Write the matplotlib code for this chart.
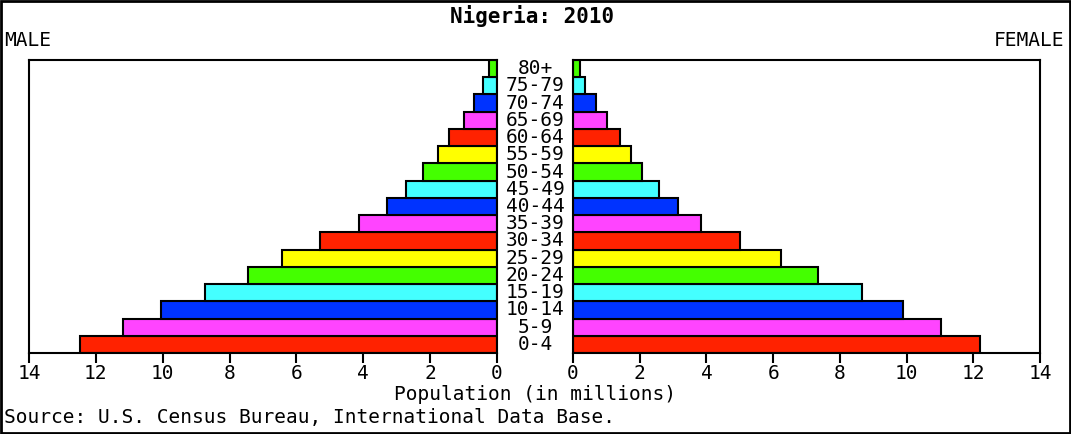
import matplotlib
matplotlib.use('Agg')
import matplotlib.pyplot as plt
from matplotlib.transforms import blended_transform_factory
from matplotlib.patches import Rectangle

# Age groups from youngest to oldest
age_groups = ['0-4', '5-9', '10-14', '15-19', '20-24', '25-29', '30-34', '35-39',
              '40-44', '45-49', '50-54', '55-59', '60-64', '65-69', '70-74',
              '75-79', '80+']

# Population in millions
male = [12.47, 11.19, 10.04, 8.74, 7.46, 6.43, 5.30, 4.14,
        3.30, 2.72, 2.22, 1.76, 1.45, 0.99, 0.68, 0.42, 0.23]
female = [12.19, 11.04, 9.90, 8.67, 7.33, 6.24, 5.02, 3.85,
          3.16, 2.57, 2.07, 1.73, 1.41, 1.03, 0.70, 0.37, 0.20]

ticks = [0, 2, 4, 6, 8, 10, 12, 14]
palette = ['#ff2200', '#ff44ff', '#0033ff', '#44ffff', '#44ff00', '#ffff00']
bar_colors = [palette[i % len(palette)] for i in range(len(age_groups))]

font = 'DejaVu Sans Mono'
fs = 14

fig = plt.figure(figsize=(10.71, 4.34), dpi=100)
W, H = 1071, 434

def axes_rect(x0, x1, y0, y1):
    return [x0 / W, 1 - y1 / H, (x1 - x0) / W, (y1 - y0) / H]

ax_m = fig.add_axes(axes_rect(29, 497, 60, 353))
ax_f = fig.add_axes(axes_rect(573, 1040, 60, 353))

ypos = list(range(len(age_groups)))

ax_m.barh(ypos, male, height=1.0, color=bar_colors, edgecolor='black', linewidth=1.5)
ax_f.barh(ypos, female, height=1.0, color=bar_colors, edgecolor='black', linewidth=1.5)

ax_m.set_xlim(14, 0)
ax_f.set_xlim(0, 14)
for ax in (ax_m, ax_f):
    ax.set_ylim(-0.5, len(age_groups) - 0.5)
    ax.set_yticks([])
    ax.set_xticks(ticks)
    ax.set_xticklabels([str(t) for t in ticks], fontfamily=font, fontsize=fs)
    ax.tick_params(axis='x', direction='out', length=7, width=1.5, pad=1)
    for sp in ax.spines.values():
        sp.set_linewidth(1.5)

# age labels between the two halves
trans = blended_transform_factory(fig.transFigure, ax_m.transData)
for y, lab in zip(ypos, age_groups):
    fig.text(535 / W, y, lab, transform=trans, ha='center', va='center',
             fontfamily=font, fontsize=fs)

fig.text(532 / W, 1 - 16 / H, 'Nigeria: 2010', ha='center', va='center',
         fontfamily=font, fontsize=15, fontweight='bold')
fig.text(4 / W, 1 - 40 / H, 'MALE', ha='left', va='center', fontfamily=font, fontsize=fs)
fig.text(1064 / W, 1 - 40 / H, 'FEMALE', ha='right', va='center', fontfamily=font, fontsize=fs)
fig.text(535 / W, 1 - 395 / H, 'Population (in millions)', ha='center', va='center',
         fontfamily=font, fontsize=fs)
fig.text(4 / W, 1 - 418 / H, 'Source: U.S. Census Bureau, International Data Base.',
         ha='left', va='center', fontfamily=font, fontsize=fs)

# outer border
fig.patches.append(Rectangle((0.001, 0.002), 0.998, 0.996, transform=fig.transFigure,
                             fill=False, edgecolor='black', linewidth=2))

fig.savefig('out.png', dpi=100)
